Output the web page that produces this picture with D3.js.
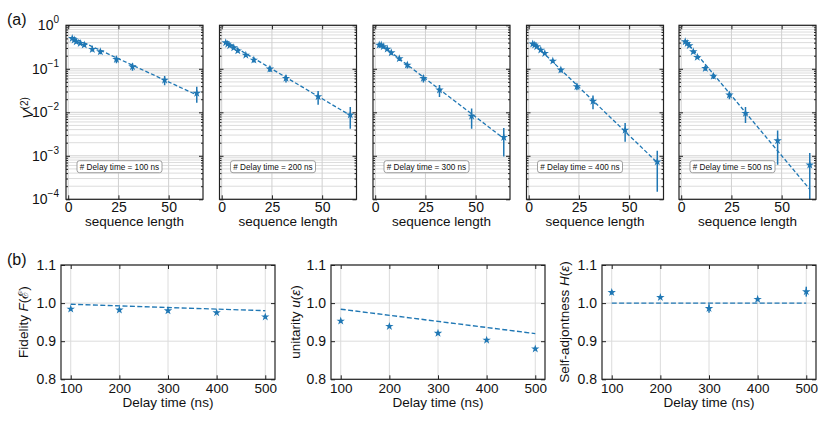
<!DOCTYPE html>
<html lang="en">
<head>
<meta charset="UTF-8">
<title>Delay time benchmarks</title>
<script src="https://d3js.org/d3.v7.min.js"></script>
<style>
  body { margin: 0; background: #fff; }
  text { font-family: "Liberation Sans", Arial, sans-serif; fill: #111; }
</style>
</head>
<body>
<script>
// ---- data ----
var seqLen = [2, 3, 4, 6, 8, 12, 16, 24, 32, 48, 64];
var delays = [100, 200, 300, 400, 500];
var xTicksTop = [0, 25, 50];

var v2_100 = [0.50, 0.46, 0.42, 0.385, 0.352, 0.28, 0.247, 0.165, 0.112, 0.055, 0.0275];
var v2_200 = [0.40, 0.37, 0.34, 0.305, 0.26, 0.207, 0.159, 0.099, 0.0605, 0.023, 0.0087];
var v2_300 = [0.352, 0.352, 0.323, 0.285, 0.234, 0.171, 0.122, 0.0605, 0.0326, 0.0082, 0.00266];
var v2_400 = [0.372, 0.352, 0.323, 0.27, 0.227, 0.151, 0.094, 0.039, 0.018, 0.0039, 0.00073];
var v2_500 = [0.42, 0.385, 0.34, 0.247, 0.184, 0.1026, 0.068, 0.025, 0.0095, 0.00222, 0.000615];

var err_100 = [0.035, 0.03, 0.03, 0.03, 0.03, 0.03, 0.03, 0.03, 0.022, 0.013, 0.011];
var err_200 = [0.03, 0.03, 0.025, 0.025, 0.02, 0.02, 0.02, 0.015, 0.012, 0.008, 0.0045];
var err_300 = [0.04, 0.04, 0.03, 0.03, 0.025, 0.02, 0.02, 0.012, 0.01, 0.004, 0.0017];
var err_400 = [0.03, 0.03, 0.025, 0.02, 0.02, 0.015, 0.012, 0.007, 0.0063, 0.0018, 0.00058];
var err_500 = [0.03, 0.03, 0.025, 0.02, 0.015, 0.012, 0.01, 0.005, 0.0038, 0.0016, 0.00055];

// fit value at the first and last sequence length
var fitStart = [0.53, 0.42, 0.385, 0.40, 0.45];
var fitEnd = [0.025, 0.0085, 0.0025, 0.0007, 0.00017];

var fidelity = [0.9845, 0.982, 0.980, 0.975, 0.964];
var fidelityErr = [0.004, 0.004, 0.004, 0.004, 0.004];
var fidelityFit = [0.997, 0.980];

var unitarity = [0.953, 0.939, 0.921, 0.903, 0.880];
var unitarityErr = [0.004, 0.004, 0.004, 0.004, 0.004];
var unitarityFit = [0.984, 0.920];

var selfAdj = [1.028, 1.015, 0.986, 1.010, 1.030];
var selfAdjErr = [0.006, 0.004, 0.011, 0.005, 0.013];
var selfAdjFit = [1.0, 1.0];

var yTicksBottom = [0.8, 0.9, 1.0, 1.1];

// ---- drawing ----
var w = 830, h = 426;
var blue = "#1f77b4";
var gridCol = "#dcdcdc";

var svg = d3.select("body").append("svg")
    .attr("width", w).attr("height", h);

var star = d3.symbol().type(d3.symbolStar).size(22);

var topSeries = [v2_100, v2_200, v2_300, v2_400, v2_500];
var topErrs = [err_100, err_200, err_300, err_400, err_500];
var topLefts = [66, 219.5, 373, 526.5, 679];
var pw = 137, pTop = 25.3, pBot = 199.3;

svg.append("text").attr("x", 7).attr("y", 25).style("font-size", "16px").text("(a)");

topLefts.forEach(function(gx, i) {
    var x = d3.scaleLinear().domain([-1.1, 67.1]).range([gx, gx + pw]);
    var y = d3.scaleLog().domain([1e-4, 1]).range([pBot, pTop]);
    var g = svg.append("g");

    g.append("clipPath").attr("id", "clipT" + i)
      .append("rect").attr("x", gx).attr("y", pTop).attr("width", pw).attr("height", pBot - pTop);

    // minor + major grid
    var minors = [];
    for (var e = -4; e < 0; e++) {
        for (var k = 2; k < 10; k++) minors.push(k * Math.pow(10, e));
    }
    var majors = [1e-4, 1e-3, 1e-2, 1e-1, 1];
    g.selectAll(".gmin").data(minors).enter().append("line")
        .attr("x1", gx).attr("x2", gx + pw)
        .attr("y1", function(d) { return y(d); }).attr("y2", function(d) { return y(d); })
        .attr("stroke", gridCol).attr("stroke-width", 1);
    g.selectAll(".gmaj").data(majors).enter().append("line")
        .attr("x1", gx).attr("x2", gx + pw)
        .attr("y1", function(d) { return y(d); }).attr("y2", function(d) { return y(d); })
        .attr("stroke", "#d0d0d0").attr("stroke-width", 1);
    g.selectAll(".gx").data(xTicksTop).enter().append("line")
        .attr("x1", function(d) { return x(d); }).attr("x2", function(d) { return x(d); })
        .attr("y1", pTop).attr("y2", pBot)
        .attr("stroke", "#d0d0d0").attr("stroke-width", 1);

    // fit line
    g.append("path")
        .datum([[seqLen[0], fitStart[i]], [seqLen[seqLen.length - 1], fitEnd[i]]])
        .attr("clip-path", "url(#clipT" + i + ")")
        .attr("d", d3.line().x(function(d) { return x(d[0]); }).y(function(d) { return y(d[1]); }))
        .attr("fill", "none").attr("stroke", blue).attr("stroke-width", 1.3)
        .attr("stroke-dasharray", "4,2.2");

    // error bars
    var vals = topSeries[i], errs = topErrs[i];
    g.selectAll(".eb").data(seqLen).enter().append("line")
        .attr("clip-path", "url(#clipT" + i + ")")
        .attr("x1", function(d) { return x(d); }).attr("x2", function(d) { return x(d); })
        .attr("y1", function(d, j) { return y(vals[j] + errs[j]); })
        .attr("y2", function(d, j) { var lo = vals[j] - errs[j]; return y(lo > 1e-6 ? lo : 1e-6); })
        .attr("stroke", blue).attr("stroke-width", 1.5);

    g.selectAll(".pt").data(seqLen).enter().append("path")
        .attr("d", star)
        .attr("transform", function(d, j) { return "translate(" + x(d) + "," + y(vals[j]) + ")"; })
        .attr("fill", blue);

    // ticks (inward, all sides)
    var xa = g.append("g").attr("transform", "translate(0," + pBot + ")")
        .call(d3.axisBottom(x).tickValues(xTicksTop).tickSize(-4).tickPadding(3));
    xa.select(".domain").remove();
    xa.selectAll("text").style("font-size", "14px").attr("fill", "#111");
    var xt = g.append("g").attr("transform", "translate(0," + pTop + ")")
        .call(d3.axisTop(x).tickValues(xTicksTop).tickSize(-4).tickFormat(""));
    xt.select(".domain").remove();

    [[gx, d3.axisLeft], [gx + pw, d3.axisRight]].forEach(function(s) {
        var a1 = g.append("g").attr("transform", "translate(" + s[0] + ",0)")
            .call(s[1](y).tickValues(majors).tickSize(-4).tickFormat(""));
        a1.select(".domain").remove();
        var a2 = g.append("g").attr("transform", "translate(" + s[0] + ",0)")
            .call(s[1](y).tickValues(minors).tickSize(-2).tickFormat(""));
        a2.select(".domain").remove();
    });
    g.selectAll(".tick line").attr("stroke", "#222");

    // frame
    g.append("rect").attr("x", gx).attr("y", pTop).attr("width", pw).attr("height", pBot - pTop)
        .attr("fill", "none").attr("stroke", "#222").attr("stroke-width", 1.2);

    // legend box
    g.append("rect").attr("x", gx + 11).attr("y", 160.7).attr("width", 85).attr("height", 12)
        .attr("rx", 2.5).attr("fill", "#fff").attr("stroke", "#888").attr("stroke-width", 0.8);
    g.append("text").attr("x", gx + 53.5).attr("y", 169.6).attr("text-anchor", "middle")
        .style("font-size", "8.2px").text("# Delay time = " + delays[i] + " ns");

    g.append("text").attr("x", gx + pw / 2).attr("y", 226).attr("text-anchor", "middle")
        .style("font-size", "13.5px").text("sequence length");

    if (i === 0) {
        majors.forEach(function(m) {
            var t = g.append("text").attr("x", gx - 7).attr("y", y(m) + 5)
                .attr("text-anchor", "end").style("font-size", "14px");
            t.append("tspan").text("10");
            var ex = Math.round(Math.log10(m));
            t.append("tspan").attr("dy", -7).style("font-size", "10px")
                .text(ex === 0 ? "0" : "\u2212" + (-ex));
        });
        var yl = g.append("text").attr("transform", "translate(33,108) rotate(-90)")
            .attr("text-anchor", "middle").style("font-size", "14px");
        yl.append("tspan").style("font-style", "italic").text("V");
        yl.append("tspan").attr("dy", -5).style("font-size", "10px").text("(2)");
    }
});

// ---- bottom row ----
svg.append("text").attr("x", 7).attr("y", 265).style("font-size", "16px").text("(b)");

var botLefts = [61, 331, 602];
var bw = 214, bTop = 265, bBot = 379.3;
var botVals = [fidelity, unitarity, selfAdj];
var botErrs = [fidelityErr, unitarityErr, selfAdjErr];
var botFits = [fidelityFit, unitarityFit, selfAdjFit];
var botLabX = [28, 300, 569];

botLefts.forEach(function(gx, i) {
    var x = d3.scaleLinear().domain([80, 520]).range([gx, gx + bw]);
    var y = d3.scaleLinear().domain([0.8, 1.1]).range([bBot, bTop]);
    var g = svg.append("g");

    g.selectAll(".gx").data(delays).enter().append("line")
        .attr("x1", function(d) { return x(d); }).attr("x2", function(d) { return x(d); })
        .attr("y1", bTop).attr("y2", bBot).attr("stroke", gridCol);
    g.selectAll(".gy").data(yTicksBottom).enter().append("line")
        .attr("x1", gx).attr("x2", gx + bw)
        .attr("y1", function(d) { return y(d); }).attr("y2", function(d) { return y(d); })
        .attr("stroke", gridCol);

    var fit = botFits[i];
    g.append("path")
        .datum([[delays[0], fit[0]], [delays[4], fit[1]]])
        .attr("d", d3.line().x(function(d) { return x(d[0]); }).y(function(d) { return y(d[1]); }))
        .attr("fill", "none").attr("stroke", blue).attr("stroke-width", 1.4)
        .attr("stroke-dasharray", "5,2.4");

    var vals = botVals[i], errs = botErrs[i];
    g.selectAll(".eb").data(delays).enter().append("line")
        .attr("x1", function(d) { return x(d); }).attr("x2", function(d) { return x(d); })
        .attr("y1", function(d, j) { return y(vals[j] + errs[j]); })
        .attr("y2", function(d, j) { return y(vals[j] - errs[j]); })
        .attr("stroke", blue).attr("stroke-width", 1.5);
    g.selectAll(".pt").data(delays).enter().append("path")
        .attr("d", star)
        .attr("transform", function(d, j) { return "translate(" + x(d) + "," + y(vals[j]) + ")"; })
        .attr("fill", blue);

    var xa = g.append("g").attr("transform", "translate(0," + bBot + ")")
        .call(d3.axisBottom(x).tickValues(delays).tickSize(-4).tickPadding(4));
    xa.select(".domain").remove();
    xa.selectAll("text").style("font-size", "13.5px").attr("fill", "#111");
    var ya = g.append("g").attr("transform", "translate(" + gx + ",0)")
        .call(d3.axisLeft(y).tickValues(yTicksBottom).tickSize(-4).tickPadding(5).tickFormat(d3.format(".1f")));
    ya.select(".domain").remove();
    ya.selectAll("text").style("font-size", "14px").attr("fill", "#111");
    var xt = g.append("g").attr("transform", "translate(0," + bTop + ")")
        .call(d3.axisTop(x).tickValues(delays).tickSize(-4).tickFormat(""));
    xt.select(".domain").remove();
    var yr = g.append("g").attr("transform", "translate(" + (gx + bw) + ",0)")
        .call(d3.axisRight(y).tickValues(yTicksBottom).tickSize(-4).tickFormat(""));
    yr.select(".domain").remove();
    g.selectAll(".tick line").attr("stroke", "#222");

    g.append("rect").attr("x", gx).attr("y", bTop).attr("width", bw).attr("height", bBot - bTop)
        .attr("fill", "none").attr("stroke", "#222").attr("stroke-width", 1.2);

    g.append("text").attr("x", gx + bw / 2).attr("y", 407).attr("text-anchor", "middle")
        .style("font-size", "13.5px").text("Delay time (ns)");

    var yl = g.append("text").attr("transform", "translate(" + botLabX[i] + ",322) rotate(-90)")
        .attr("text-anchor", "middle").style("font-size", "13.5px");
    if (i === 0) {
        yl.append("tspan").text("Fidelity ");
        yl.append("tspan").style("font-style", "italic").text("F");
        yl.append("tspan").text("(\u2130)");
    } else if (i === 1) {
        yl.append("tspan").text("unitarity ");
        yl.append("tspan").style("font-style", "italic").text("u");
        yl.append("tspan").text("(");
        yl.append("tspan").style("font-style", "italic").text("\u03b5");
        yl.append("tspan").text(")");
    } else {
        yl.append("tspan").text("Self-adjontness ");
        yl.append("tspan").style("font-style", "italic").text("H");
        yl.append("tspan").text("(");
        yl.append("tspan").style("font-style", "italic").text("\u03b5");
        yl.append("tspan").text(")");
    }
});
</script>
</body>
</html>
